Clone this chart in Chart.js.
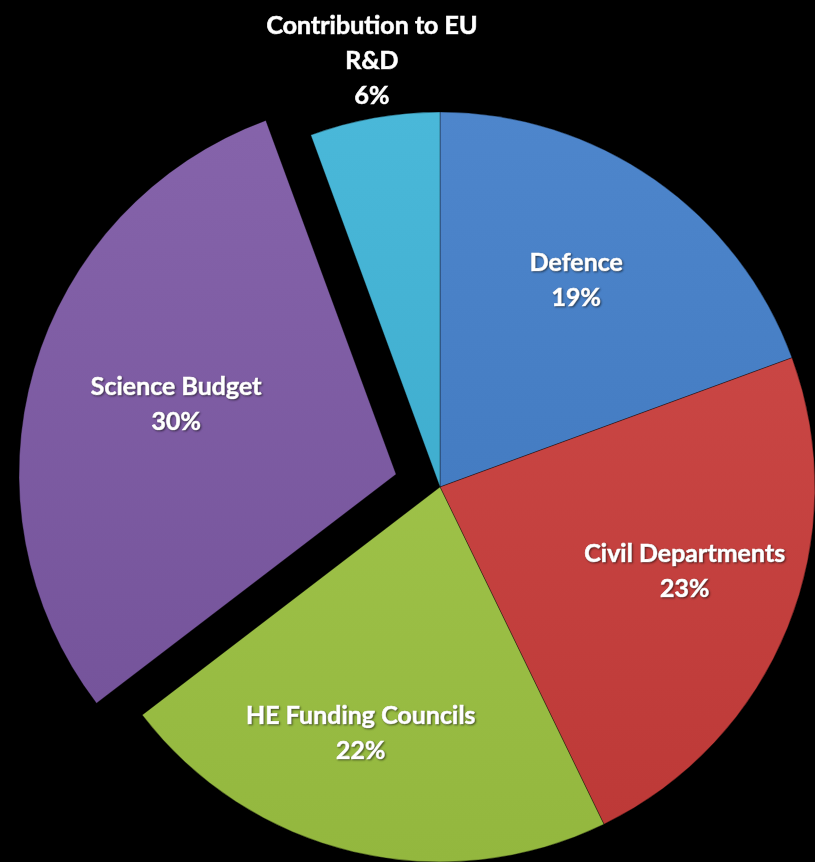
<!DOCTYPE html>
<html>
<head>
<meta charset="utf-8">
<script src="https://cdn.jsdelivr.net/npm/chart.js@4.4.1/dist/chart.umd.min.js"></script>
<style>
  html, body { margin: 0; padding: 0; background: #000; overflow: hidden; }
  body { width: 815px; height: 862px; position: relative; }
  #budgetChart { position: absolute; left: -27px; top: 0; }
</style>
</head>
<body>
<canvas id="budgetChart" width="934" height="954"></canvas>
<script>
/* ================= DATA ================= */
const categories = [
  ["Defence"],
  ["Civil Departments"],
  ["HE Funding Councils"],
  ["Science Budget"],
  ["Contribution to EU", "R&D"]
];
const shares = [19.4, 23.4, 21.8, 29.8, 5.6];
const percentLabels = ["19%", "23%", "22%", "30%", "6%"];

/* ================= STYLE ================= */
const baseColors = ["#3f7cc8", "#cc3d3b", "#a0c743", "#7b57a4", "#3ab2d6"];
const sliceOffsets = [0, 0, 0, 183, 0];
const labelRadius = [0.66, 0.69, 0.69, 0.61, 1.15];
const labelNudgeDeg = [-1.5, -3, 4.5, 1.5, 1];

function shade(hex, amt) {
  const n = parseInt(hex.slice(1), 16);
  let r = (n >> 16) & 255, g = (n >> 8) & 255, b = n & 255;
  const f = c => Math.max(0, Math.min(255, Math.round(amt > 0 ? c + (255 - c) * amt : c * (1 + amt))));
  return `rgb(${f(r)},${f(g)},${f(b)})`;
}

function sliceFill(ctx) {
  const base = baseColors[ctx.dataIndex];
  const area = ctx.chart.chartArea;
  if (!area) return base;
  const g = ctx.chart.ctx.createLinearGradient(0, area.top + 90, 0, area.bottom - 90);
  g.addColorStop(0, shade(base, 0.08));
  g.addColorStop(1, shade(base, -0.08));
  return g;
}

/* ================= LABELS ================= */
const sliceLabels = {
  id: "sliceLabels",
  afterDatasetsDraw(chart) {
    const ctx = chart.ctx;
    const arcs = chart.getDatasetMeta(0).data;
    ctx.save();
    ctx.font = "bold 25px Lato, 'Noto Sans', sans-serif";
    ctx.fillStyle = "#ffffff";
    ctx.strokeStyle = "#ffffff";
    ctx.lineWidth = 0.7;
    ctx.textAlign = "center";
    ctx.textBaseline = "middle";
    ctx.shadowColor = "rgba(0,0,0,0.45)";
    ctx.shadowBlur = 2;
    ctx.shadowOffsetX = 1;
    ctx.shadowOffsetY = 1;
    arcs.forEach((arc, i) => {
      const { x, y, startAngle, endAngle, outerRadius, circumference } = arc.getProps(
        ["x", "y", "startAngle", "endAngle", "outerRadius", "circumference"], true);
      const mid = (startAngle + endAngle) / 2;
      const off = (sliceOffsets[i] || 0) / 4;
      const fix = 1 - Math.sin(Math.min(Math.PI, circumference || 0));
      const shift = off * (1 + fix);
      const r = outerRadius * labelRadius[i];
      const a = mid + labelNudgeDeg[i] * Math.PI / 180;
      const cx = x + Math.cos(mid) * shift + Math.cos(a) * r;
      const cy = y + Math.sin(mid) * shift + Math.sin(a) * r;
      const lines = categories[i].concat([percentLabels[i]]);
      const lh = 35;
      const top = cy - (lines.length - 1) * lh / 2;
      lines.forEach((t, k) => {
        ctx.strokeText(t, cx, top + k * lh);
        ctx.fillText(t, cx, top + k * lh);
      });
    });
    ctx.restore();
  }
};

/* ================= CHART ================= */
new Chart(document.getElementById("budgetChart"), {
  type: "pie",
  data: {
    labels: categories.map(c => c.join(" ")),
    datasets: [{
      data: shares,
      backgroundColor: sliceFill,
      borderColor: "rgba(0,0,0,0.35)",
      borderWidth: 1,
      offset: sliceOffsets,
      hoverOffset: 0,
      hoverBorderWidth: 1
    }]
  },
  options: {
    responsive: false,
    animation: false,
    events: [],
    layout: { padding: { top: 20 } },
    plugins: {
      legend: { display: false },
      tooltip: { enabled: false }
    }
  },
  plugins: [sliceLabels]
});
</script>
</body>
</html>
